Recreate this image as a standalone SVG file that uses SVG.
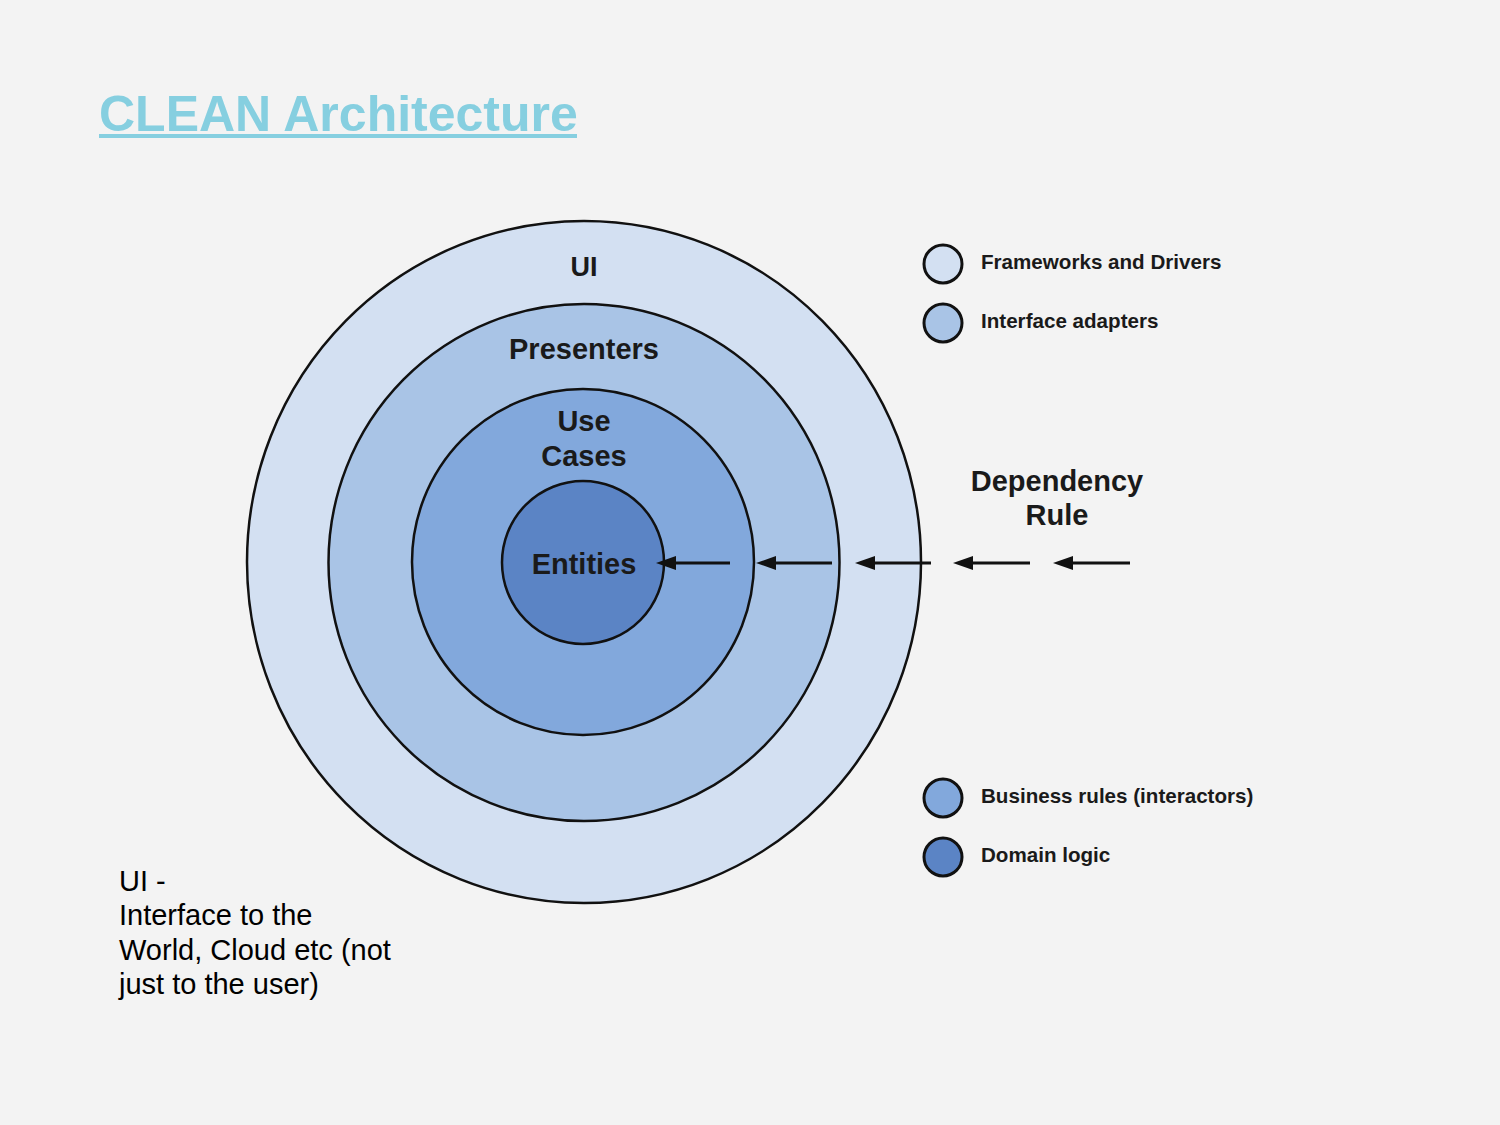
<svg xmlns="http://www.w3.org/2000/svg" width="1500" height="1125" viewBox="0 0 1500 1125">
<defs>
<style>
.ring{stroke:#111;stroke-width:2.5}
.lbl{font-family:"Liberation Sans",Arial,sans-serif;font-weight:bold;fill:#1a1a1a;text-anchor:middle}
.leg{font-family:"Liberation Sans",Arial,sans-serif;font-weight:bold;font-size:20.6px;fill:#1a1a1a}
.arr{stroke:#111;stroke-width:3;fill:none}
.head{fill:#111}
</style>
</defs>
<rect width="1500" height="1125" fill="#f3f3f3"/>
<g id="title">
<text x="99" y="131" font-family="Liberation Sans,Arial,sans-serif" font-weight="bold" font-size="50" fill="#86cfe0">CLEAN Architecture</text>
<rect x="99" y="134" width="478" height="4" fill="#86cfe0"/>
</g>
<g id="ring-ui"><ellipse class="ring" cx="584" cy="562" rx="337" ry="341" fill="#d3e0f2"/><text class="lbl" x="584" y="276" font-size="27">UI</text></g>
<g id="ring-presenters"><ellipse class="ring" cx="584" cy="562.5" rx="255.5" ry="258.5" fill="#a9c4e6"/><text class="lbl" x="584" y="359" font-size="29">Presenters</text></g>
<g id="ring-usecases"><ellipse class="ring" cx="583" cy="562" rx="171" ry="173" fill="#82a8dc"/><text class="lbl" x="584" y="431" font-size="29">Use</text><text class="lbl" x="584" y="466" font-size="29">Cases</text></g>
<g id="ring-entities"><ellipse class="ring" cx="583" cy="562.5" rx="81" ry="81.5" fill="#5b84c5"/><text class="lbl" x="584" y="574" font-size="29">Entities</text></g>
<g id="dependency-rule"><text class="lbl" x="1057" y="491" font-size="29">Dependency</text><text class="lbl" x="1057" y="525" font-size="29">Rule</text></g>
<g id="connectors">
<line class="arr" x1="730" y1="563" x2="672" y2="563"/><polygon class="head" points="656,563 676,556 676,570"/>
<line class="arr" x1="832" y1="563" x2="772" y2="563"/><polygon class="head" points="756,563 776,556 776,570"/>
<line class="arr" x1="931" y1="563" x2="871" y2="563"/><polygon class="head" points="855,563 875,556 875,570"/>
<line class="arr" x1="1030" y1="563" x2="969" y2="563"/><polygon class="head" points="953,563 973,556 973,570"/>
<line class="arr" x1="1130" y1="563" x2="1069" y2="563"/><polygon class="head" points="1053,563 1073,556 1073,570"/>
</g>
<g id="legend-frameworks"><circle cx="943" cy="264" r="19" fill="#d3e0f2" stroke="#111" stroke-width="3"/><text class="leg" x="981" y="269">Frameworks and Drivers</text></g>
<g id="legend-adapters"><circle cx="943" cy="323" r="19" fill="#a9c4e6" stroke="#111" stroke-width="3"/><text class="leg" x="981" y="328">Interface adapters</text></g>
<g id="legend-business"><circle cx="943" cy="798" r="19" fill="#82a8dc" stroke="#111" stroke-width="3"/><text class="leg" x="981" y="803">Business rules (interactors)</text></g>
<g id="legend-domain"><circle cx="943" cy="857" r="19" fill="#5b84c5" stroke="#111" stroke-width="3"/><text class="leg" x="981" y="862">Domain logic</text></g>
<g id="note" font-family="Liberation Sans,Arial,sans-serif" font-size="29" fill="#000">
<text x="119" y="891">UI -</text>
<text x="119" y="925">Interface to the</text>
<text x="119" y="960">World, Cloud etc (not</text>
<text x="119" y="994">just to the user)</text>
</g>
</svg>
